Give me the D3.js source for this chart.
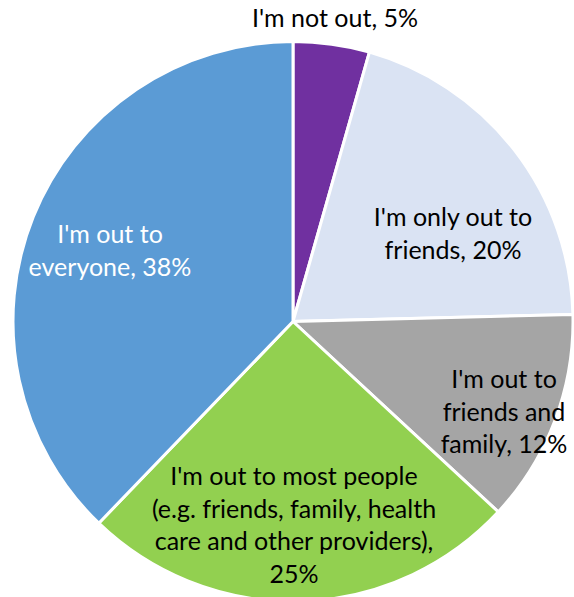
<!DOCTYPE html>
<html>
<head>
<meta charset="utf-8">
<script src="https://cdn.jsdelivr.net/npm/d3@7"></script>
<style>
  html, body { margin: 0; padding: 0; background: #fff; }
  svg { display: block; }
</style>
</head>
<body>
<svg id="chart" width="574" height="597"></svg>
<script>
// ---- data ----
const categories = [
  "I'm not out",
  "I'm only out to friends",
  "I'm out to friends and family",
  "I'm out to most people (e.g. friends, family, health care and other providers)",
  "I'm out to everyone"
];
const values = [4.4, 20.2, 12.3, 25.3, 37.8];
const labelLines = [
  ["I'm not out, 5%"],
  ["I'm only out to", "friends, 20%"],
  ["I'm out to", "friends and", "family, 12%"],
  ["I'm out to most people", "(e.g. friends, family, health", "care and other providers),", "25%"],
  ["I'm out to", "everyone, 38%"]
];
const colors = ["#7030A0", "#DAE3F3", "#A5A5A5", "#92D050", "#5B9BD5"];
const labelColors = ["#000", "#000", "#000", "#000", "#fff"];
// label anchor: centre x, first baseline y
const labelPos = [[335, 27], [453, 226], [504, 388], [294, 485], [110, 243]];

// ---- drawing ----
const svg = d3.select("#chart");
const cx = 293, cy = 321.5, R = 280;
const g = svg.append("g").attr("transform", `translate(${cx},${cy})`);

const pie = d3.pie().sort(null).value(d => d);
const arc = d3.arc().innerRadius(0).outerRadius(R);

g.selectAll("path")
  .data(pie(values))
  .join("path")
  .attr("d", arc)
  .attr("fill", (d, i) => colors[i])
  .attr("stroke", "#fff")
  .attr("stroke-width", 3)
  .attr("stroke-linejoin", "miter");

const lh = 32.5;
const labels = svg.append("g")
  .attr("font-family", "Lato, 'Open Sans', sans-serif")
  .attr("font-size", 25)
  .attr("text-anchor", "middle");

labelLines.forEach((lines, i) => {
  const t = labels.append("text")
    .attr("x", labelPos[i][0])
    .attr("y", labelPos[i][1])
    .attr("fill", labelColors[i]);
  lines.forEach((ln, j) => {
    t.append("tspan")
      .attr("x", labelPos[i][0])
      .attr("y", labelPos[i][1] + j * lh)
      .text(ln);
  });
});
</script>
</body>
</html>
